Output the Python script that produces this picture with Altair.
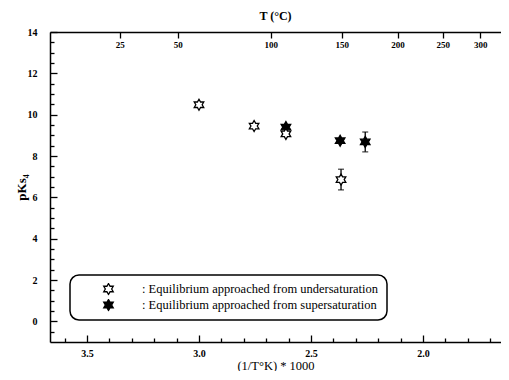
import altair as alt
import pandas as pd

# ---- data (x = 1000/T[K], y = pKs4) ----
under_x = [3.000, 2.754, 2.612, 2.366]
under_y = [10.48, 9.45, 9.07, 6.86]
under_err = [0.0, 0.0, 0.0, 0.50]

super_x = [2.612, 2.370, 2.258]
super_y = [9.40, 8.74, 8.68]
super_err = [0.0, 0.0, 0.48]

series_names = [": Equilibrium approached from undersaturation",
                ": Equilibrium approached from supersaturation"]

x_major = [3.5, 3.0, 2.5, 2.0]
x_minor = [3.6, 3.4, 3.3, 3.2, 3.1, 2.9, 2.8, 2.7, 2.6, 2.4, 2.3, 2.2, 2.1, 1.9, 1.8, 1.7]
y_major = [0, 2, 4, 6, 8, 10, 12, 14]
y_minor = [-0.5, 0.5, 1, 1.5, 2.5, 3, 3.5, 4.5, 5, 5.5, 6.5, 7, 7.5, 8.5, 9, 9.5,
           10.5, 11, 11.5, 12.5, 13, 13.5]
top_T = [25, 50, 100, 150, 200, 250, 300]
top_pos = [1000.0 / (t + 273.15) for t in top_T]

W, H = 451, 310
X_LEFT, X_RIGHT = 3.665, 1.652
STAR = ("M0,-1L0.289,-0.5L0.866,-0.5L0.577,0L0.866,0.5L0.289,0.5L0,1"
        "L-0.289,0.5L-0.866,0.5L-0.577,0L-0.866,-0.5L-0.289,-0.5Z")
SERIF = "Liberation Serif"

df = pd.DataFrame({
    "x": super_x + under_x,
    "y": super_y + under_y,
    "err": super_err + under_err,
    "series": [series_names[1]] * len(super_x) + [series_names[0]] * len(under_x),
})
df["lo"] = df["y"] - df["err"]
df["hi"] = df["y"] + df["err"]
err_df = df[df["err"] > 0]

xscale = alt.Scale(domain=[X_RIGHT, X_LEFT], reverse=True, nice=False, zero=False)
yscale = alt.Scale(domain=[-1, 14], nice=False, zero=False)

lab = dict(labelFont=SERIF, labelFontWeight="bold", labelFontSize=10, labelColor="black")

points = alt.Chart(df).mark_point(
    shape=STAR, size=121, filled=True, stroke="black", strokeWidth=1.3, opacity=1
).encode(
    x=alt.X("x:Q", scale=xscale, axis=alt.Axis(
        orient="bottom", values=x_major, format=".1f", tickSize=0, domain=True,
        domainColor="black", domainWidth=1.5, labelPadding=6, grid=False,
        title="(1/T°K) * 1000", titleFont=SERIF, titleFontSize=12.5,
        titleFontWeight="normal", titlePadding=1, titleColor="black", **lab)),
    y=alt.Y("y:Q", scale=yscale, axis=alt.Axis(
        orient="left", values=y_major, tickSize=0, domain=True, domainColor="black",
        domainWidth=1.5, labelPadding=13, grid=False, title="pKs₄", titleFont=SERIF,
        titleFontSize=13, titleFontWeight="bold", titleColor="black", titleX=-22, **lab)),
    fill=alt.Fill("series:N", scale=alt.Scale(domain=series_names, range=["white", "black"]),
                  legend=alt.Legend(
                      title=None, orient="none", legendX=20, legendY=243,
                      symbolType=STAR, symbolSize=121, symbolStrokeColor="black",
                      symbolStrokeWidth=1.3, symbolOffset=24, labelOffset=27,
                      labelLimit=400, clipHeight=12,
                      labelFont=SERIF, labelFontSize=12.5, labelColor="black",
                      strokeColor="black", cornerRadius=9, padding=8, rowPadding=3,
                      fillColor="white")),
)

rules = alt.Chart(err_df).mark_rule(color="black", strokeWidth=1.3).encode(
    x=alt.X("x:Q", scale=xscale, axis=None),
    y=alt.Y("lo:Q", scale=yscale, axis=None),
    y2="hi:Q",
)
cap_lo = alt.Chart(err_df).mark_tick(orient="horizontal", size=6, thickness=1.3, color="black").encode(
    x=alt.X("x:Q", scale=xscale, axis=None),
    y=alt.Y("lo:Q", scale=yscale, axis=None),
)
cap_hi = alt.Chart(err_df).mark_tick(orient="horizontal", size=6, thickness=1.3, color="black").encode(
    x=alt.X("x:Q", scale=xscale, axis=None),
    y=alt.Y("hi:Q", scale=yscale, axis=None),
)


def tick_layer(xvals, yvals, size):
    xa = alt.Axis(orient="top", offset=-H, values=xvals, tickSize=size, labels=False,
                  domain=False, grid=False, title=None, tickColor="black", tickWidth=1.3)
    ya = alt.Axis(orient="right", offset=-W, values=yvals, tickSize=size, labels=False,
                  domain=False, grid=False, title=None, tickColor="black", tickWidth=1.3)
    return alt.Chart(df).mark_point(opacity=0).encode(
        x=alt.X("x:Q", scale=xscale, axis=xa),
        y=alt.Y("y:Q", scale=yscale, axis=ya),
    )


major_ticks = tick_layer(x_major, y_major, 7)
minor_ticks = tick_layer(x_minor, y_minor, 4)

top_axis = alt.Chart(df).mark_point(opacity=0).encode(
    x=alt.X("x:Q", scale=xscale, axis=alt.Axis(
        orient="bottom", offset=-H, values=top_pos,
        labelExpr="format(1000/datum.value - 273.15, '.0f')",
        tickSize=6, tickColor="black", tickWidth=1.3, domain=True, domainColor="black",
        domainWidth=1.5, labelPadding=2, grid=False, title=None,
        labelFont=SERIF, labelFontWeight="bold", labelFontSize=9, labelColor="black")),
    y=alt.Y("y:Q", scale=yscale, axis=None),
)

chart = alt.layer(
    top_axis, major_ticks, minor_ticks, rules, cap_lo, cap_hi, points
).resolve_axis(x="independent", y="independent").properties(
    width=W, height=H,
    title=alt.TitleParams("T (°C)", font=SERIF, fontSize=12, fontWeight="bold",
                          color="black", anchor="middle", offset=4),
    autosize=alt.AutoSizeParams(type="none"),
    padding={"left": 42, "top": 24, "right": 0, "bottom": 29},
).configure_view(stroke=None).configure_legend(strokeWidth=1.5)

chart.save("out.html", embed_options={"renderer": "svg", "actions": False})
